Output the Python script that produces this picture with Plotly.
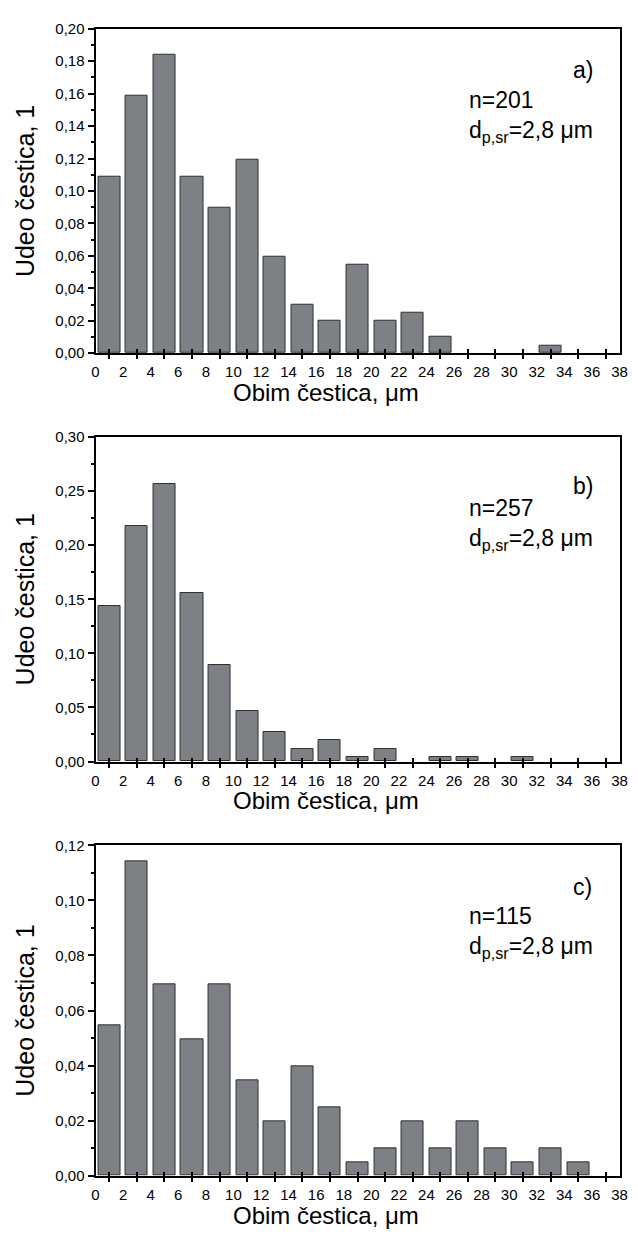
import plotly.graph_objects as go

# ---- data ----
bin_centers = [1, 3, 5, 7, 9, 11, 13, 15, 17, 19, 21, 23, 25, 27, 29, 31, 33, 35, 37]
x_tick_vals = [0, 2, 4, 6, 8, 10, 12, 14, 16, 18, 20, 22, 24, 26, 28, 30, 32, 34, 36, 38]
x_tick_text = [str(v) for v in x_tick_vals]

share_a = [0.109, 0.159, 0.184, 0.109, 0.0895, 0.119, 0.0597, 0.0299, 0.0199, 0.0547,
           0.0199, 0.0249, 0.0099, 0, 0, 0, 0.0049, 0, 0]
share_b = [0.144, 0.218, 0.257, 0.1556, 0.0895, 0.0467, 0.0272, 0.0117, 0.0195, 0.0039,
           0.0117, 0, 0.0039, 0.0039, 0, 0.0039, 0, 0, 0]
share_c = [0.0545, 0.1143, 0.0695, 0.0495, 0.0695, 0.0346, 0.0198, 0.0396, 0.0248, 0.0049,
           0.0098, 0.0198, 0.0098, 0.0198, 0.0098, 0.0049, 0.0098, 0.0049, 0]

panel_labels = ["a)", "b)", "c)"]
n_values = [201, 257, 115]
d_text = "d<sub>p,sr</sub>=2,8 μm"
y_title = "Udeo čestica, 1"
x_title = "Obim čestica, μm"
y_ranges = [[0, 0.20], [0, 0.30], [0, 0.12]]
y_dticks = [0.02, 0.05, 0.02]
y_minor = [0.01, 0.025, 0.01]

# ---- layout geometry (pixels) ----
W, H = 638, 1236
x_left, x_right = 93.3, 627.3
panel_px = [(20, 349), (434, 763), (848, 1183)]
label_px = [(590, 62), (590, 484), (590, 890)]
info_px = [(472, 109), (472, 523), (472, 936)]

FONT = "Liberation Sans, Arial, sans-serif"
BAR_FILL = "#7d8185"
BAR_LINE = "#2f2f2f"

def px_x(x):
    return x / W

def px_y(y):
    return 1 - y / H

fig = go.Figure()
datasets = [share_a, share_b, share_c]
annotations = []
odd_vals = list(range(1, 38, 2))

for i, vals in enumerate(datasets):
    n = i + 1
    xa = "x" if n == 1 else f"x{n}"
    ya = "y" if n == 1 else f"y{n}"
    shown = [v if v > 0 else None for v in vals]  # empty bins draw no bar
    fig.add_trace(go.Bar(
        x=bin_centers, y=shown, width=1.6,
        marker=dict(color=BAR_FILL, line=dict(color=BAR_LINE, width=1)),
        xaxis=xa, yaxis=ya, showlegend=False, hoverinfo="x+y"))
    # helper trace for overlay axis (inner half of crossing ticks)
    ov = 3 + n
    fig.add_trace(go.Scatter(x=[None], y=[None], xaxis=f"x{ov}", yaxis=ya,
                             showlegend=False, hoverinfo="skip"))

    top, bot = panel_px[i]
    dom_y = [px_y(bot), px_y(top)]
    dom_x = [px_x(x_left), px_x(x_right)]
    xkey = "xaxis" if n == 1 else f"xaxis{n}"
    ykey = "yaxis" if n == 1 else f"yaxis{n}"
    fig.layout[xkey] = dict(
        domain=dom_x, anchor=ya, range=[0, 38],
        tickmode="array", tickvals=x_tick_vals, ticktext=x_tick_text,
        ticks="outside", ticklen=4, tickcolor="rgba(0,0,0,0)",
        tickfont=dict(size=15, family=FONT, color="black"),
        showline=True, linecolor="black", linewidth=2, mirror=True,
        showgrid=False, zeroline=False,
        minor=dict(tickmode="array", tickvals=odd_vals, ticks="outside",
                   ticklen=4, tickwidth=1.5, tickcolor="black", showgrid=False),
    )
    fig.layout[f"xaxis{ov}"] = dict(
        domain=dom_x, anchor=ya, overlaying=xa, range=[0, 38],
        tickmode="array", tickvals=odd_vals, ticks="inside", ticklen=4,
        tickwidth=1.5, tickcolor="black", showticklabels=False,
        showline=False, showgrid=False, zeroline=False, side="bottom",
    )
    fig.layout[ykey] = dict(
        domain=dom_y, anchor=xa, range=y_ranges[i],
        tickmode="linear", tick0=0, dtick=y_dticks[i], tickformat=".2f",
        ticks="outside", ticklen=6, tickwidth=1.5, tickcolor="black",
        tickfont=dict(size=15, family=FONT, color="black"),
        showline=True, linecolor="black", linewidth=2, mirror=True,
        showgrid=False, zeroline=False,
        minor=dict(dtick=y_minor[i], tick0=0, ticks="outside", ticklen=3,
                   tickwidth=1.5, tickcolor="black", showgrid=False),
        title=dict(text=y_title, font=dict(size=25, family=FONT, color="black"),
                   standoff=14),
    )

    # x-axis title
    annotations.append(dict(
        text=x_title, xref="paper", yref="paper",
        x=px_x(328), y=px_y(bot + 40), xanchor="center", yanchor="middle",
        showarrow=False, font=dict(size=24, family=FONT, color="black")))
    # panel label
    lx, ly = label_px[i]
    annotations.append(dict(
        text=panel_labels[i], xref="paper", yref="paper",
        x=px_x(lx), y=px_y(ly), xanchor="center", yanchor="middle",
        showarrow=False, font=dict(size=23, family=FONT, color="black")))
    # info text
    ix, iy = info_px[i]
    annotations.append(dict(
        text=f"n={n_values[i]}<br>{d_text}", xref="paper", yref="paper",
        x=px_x(ix), y=px_y(iy), xanchor="left", yanchor="middle", align="left",
        showarrow=False, font=dict(size=23, family=FONT, color="black")))

fig.update_layout(
    width=W, height=H, margin=dict(l=0, r=0, t=0, b=0),
    paper_bgcolor="white", plot_bgcolor="white",
    separators=",.", bargap=0, annotations=annotations,
    font=dict(family=FONT, color="black"),
)

fig.write_html(
    "out.html",
    config={"displayModeBar": False},
    post_script="document.body.style.margin='0';document.body.style.overflow='hidden';",
)
